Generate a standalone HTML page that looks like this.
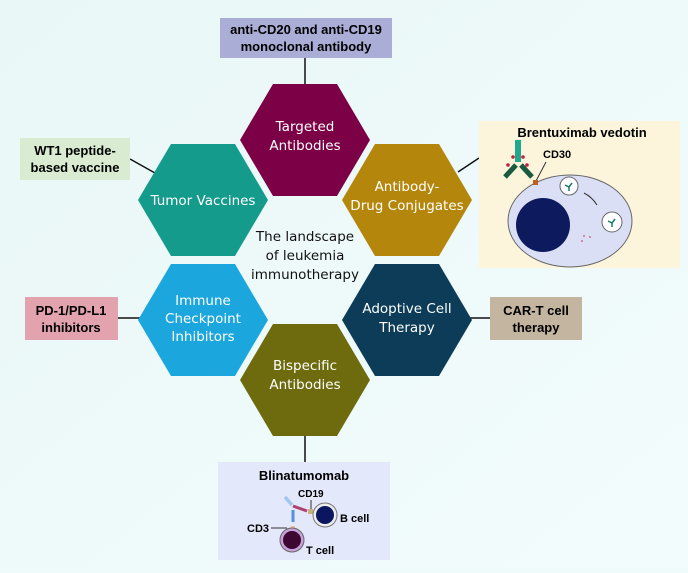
<!DOCTYPE html>
<html><head><style>
body{margin:0;background:#effbfb;}
</style></head><body>
<svg width="688" height="568" viewBox="0 0 688 568" xmlns="http://www.w3.org/2000/svg" font-family="Liberation Sans, sans-serif">
<defs><linearGradient id="bg" x1="0" y1="0" x2="1" y2="1"><stop offset="0" stop-color="#e9f7f7"/><stop offset="1" stop-color="#f3fcfc"/></linearGradient></defs>
<rect width="688" height="568" fill="url(#bg)"/>
<g stroke="#111" stroke-width="1.5">
<line x1="305" y1="58" x2="305" y2="85"/>
<line x1="130" y1="159" x2="155" y2="173"/>
<line x1="458" y1="172" x2="479" y2="158"/>
<line x1="118" y1="318" x2="140" y2="318"/>
<line x1="470" y1="318" x2="490" y2="318"/>
<line x1="305" y1="435" x2="305" y2="462"/>
</g>
<rect x="220" y="18" width="172" height="40" fill="#aaadd6"/>
<text x="306" y="34" font-size="13" font-weight="bold" text-anchor="middle">anti-CD20 and anti-CD19</text>
<text x="306" y="51" font-size="13" font-weight="bold" text-anchor="middle">monoclonal antibody</text>
<rect x="20" y="138" width="110" height="42" fill="#d9ecd1"/>
<text x="75" y="155" font-size="13" font-weight="bold" text-anchor="middle">WT1 peptide-</text>
<text x="75" y="172" font-size="13" font-weight="bold" text-anchor="middle">based vaccine</text>
<rect x="25" y="297" width="93" height="43" fill="#e2a2ae"/>
<text x="71" y="315" font-size="13" font-weight="bold" text-anchor="middle">PD-1/PD-L1</text>
<text x="71" y="332" font-size="13" font-weight="bold" text-anchor="middle">inhibitors</text>
<rect x="490" y="297" width="92" height="43" fill="#c3b5a0"/>
<text x="536" y="315" font-size="13" font-weight="bold" text-anchor="middle">CAR-T cell</text>
<text x="536" y="332" font-size="13" font-weight="bold" text-anchor="middle">therapy</text>
<rect x="479" y="121" width="201" height="147" fill="#fcf5dc"/>
<text x="582" y="137" font-size="13" font-weight="bold" text-anchor="middle">Brentuximab vedotin</text>
<ellipse cx="570" cy="221" rx="62" ry="46" fill="#dadff5" stroke="#666"/>
<rect x="515" y="140" width="6" height="22" fill="#1fa88e"/>
<path d="M516 165 L505 177 M521 165 L532 177" stroke="#1a5a40" stroke-width="5"/>
<circle cx="513" cy="157" r="1.8" fill="#c02040"/><circle cx="523" cy="157" r="1.8" fill="#c02040"/>
<circle cx="508" cy="165" r="1.8" fill="#c02040"/><circle cx="527" cy="165" r="1.8" fill="#c02040"/>
<text x="543" y="158" font-size="11" font-weight="bold">CD30</text>
<line x1="546" y1="162" x2="536" y2="181" stroke="#333" stroke-width="1"/>
<rect x="533" y="180" width="5" height="5" fill="#c06020"/>
<circle cx="543" cy="225" r="27" fill="#0d1a5e"/>
<circle cx="569" cy="186" r="9" fill="#fff" stroke="#666"/>
<circle cx="612" cy="222" r="10" fill="#fff" stroke="#666"/>
<path d="M565 185 l4 2 l3 -4 M569 187 v4 M608 221 l4 2 l3 -4 M612 223 v4" stroke="#1a7a60" stroke-width="1.5" fill="none"/>
<path d="M584 193 Q592 197 597 205" stroke="#333" fill="none"/>
<circle cx="584" cy="236" r="0.8" fill="#c02040"/><circle cx="590" cy="237" r="0.8" fill="#c02040"/><circle cx="582" cy="241" r="0.8" fill="#c02040"/>
<rect x="218" y="462" width="172" height="98" fill="#e3e8fa"/>
<text x="304" y="480" font-size="13" font-weight="bold" text-anchor="middle">Blinatumomab</text>
<text x="298" y="497" font-size="10" font-weight="bold">CD19</text>
<line x1="311" y1="500" x2="311" y2="510" stroke="#333"/>
<path d="M285 497 L292 505" stroke="#9fc6f0" stroke-width="3.5"/>
<path d="M293 506 L307 511" stroke="#b04070" stroke-width="3"/>
<path d="M293 510 L293 522" stroke="#5590e0" stroke-width="3"/>
<rect x="308" y="509" width="5" height="5" fill="#c8b080"/>
<rect x="291" y="526" width="4" height="4" fill="#f0c090"/>
<circle cx="325" cy="515" r="12" fill="#eee" stroke="#777"/><circle cx="325" cy="515" r="9" fill="#0b1660"/>
<text x="340" y="522" font-size="11" font-weight="bold">B cell</text>
<circle cx="292" cy="540" r="12" fill="#c9a0d8" stroke="#666"/><circle cx="292" cy="540" r="9" fill="#3c0832"/>
<text x="247" y="532" font-size="11" font-weight="bold">CD3</text>
<line x1="271" y1="528" x2="287" y2="528" stroke="#333"/>
<text x="306" y="554" font-size="11" font-weight="bold">T cell</text>
<g font-family="DejaVu Sans, Liberation Sans, sans-serif" font-size="13.5" fill="#fff" text-anchor="middle">
<polygon points="240,140 273,84 337,84 370,140 337,196 273,196" fill="#7b0046"/>
<text x="305" y="131">Targeted</text><text x="305" y="150">Antibodies</text>
<polygon points="138,200 171,144 235,144 268,200 235,256 171,256" fill="#149b8c"/>
<text x="203" y="205">Tumor Vaccines</text>
<polygon points="342,200 375,144 439,144 472,200 439,256 375,256" fill="#b5860c"/>
<text x="407" y="191">Antibody-</text><text x="407" y="210">Drug Conjugates</text>
<polygon points="138,320 171,264 235,264 268,320 235,376 171,376" fill="#1ba7dd"/>
<text x="203" y="305">Immune</text><text x="203" y="323">Checkpoint</text><text x="203" y="341">Inhibitors</text>
<polygon points="342,320 375,264 439,264 472,320 439,376 375,376" fill="#0c3c57"/>
<text x="407" y="313">Adoptive Cell</text><text x="407" y="332">Therapy</text>
<polygon points="240,380 273,324 337,324 370,380 337,436 273,436" fill="#6e6b0f"/>
<text x="305" y="370">Bispecific</text><text x="305" y="389">Antibodies</text>
</g>
<g font-family="DejaVu Sans, Liberation Sans, sans-serif" font-size="13.5" fill="#111" text-anchor="middle">
<text x="305" y="241">The landscape</text><text x="305" y="260">of leukemia</text><text x="305" y="279">immunotherapy</text>
</g>
</svg>
</body></html>
